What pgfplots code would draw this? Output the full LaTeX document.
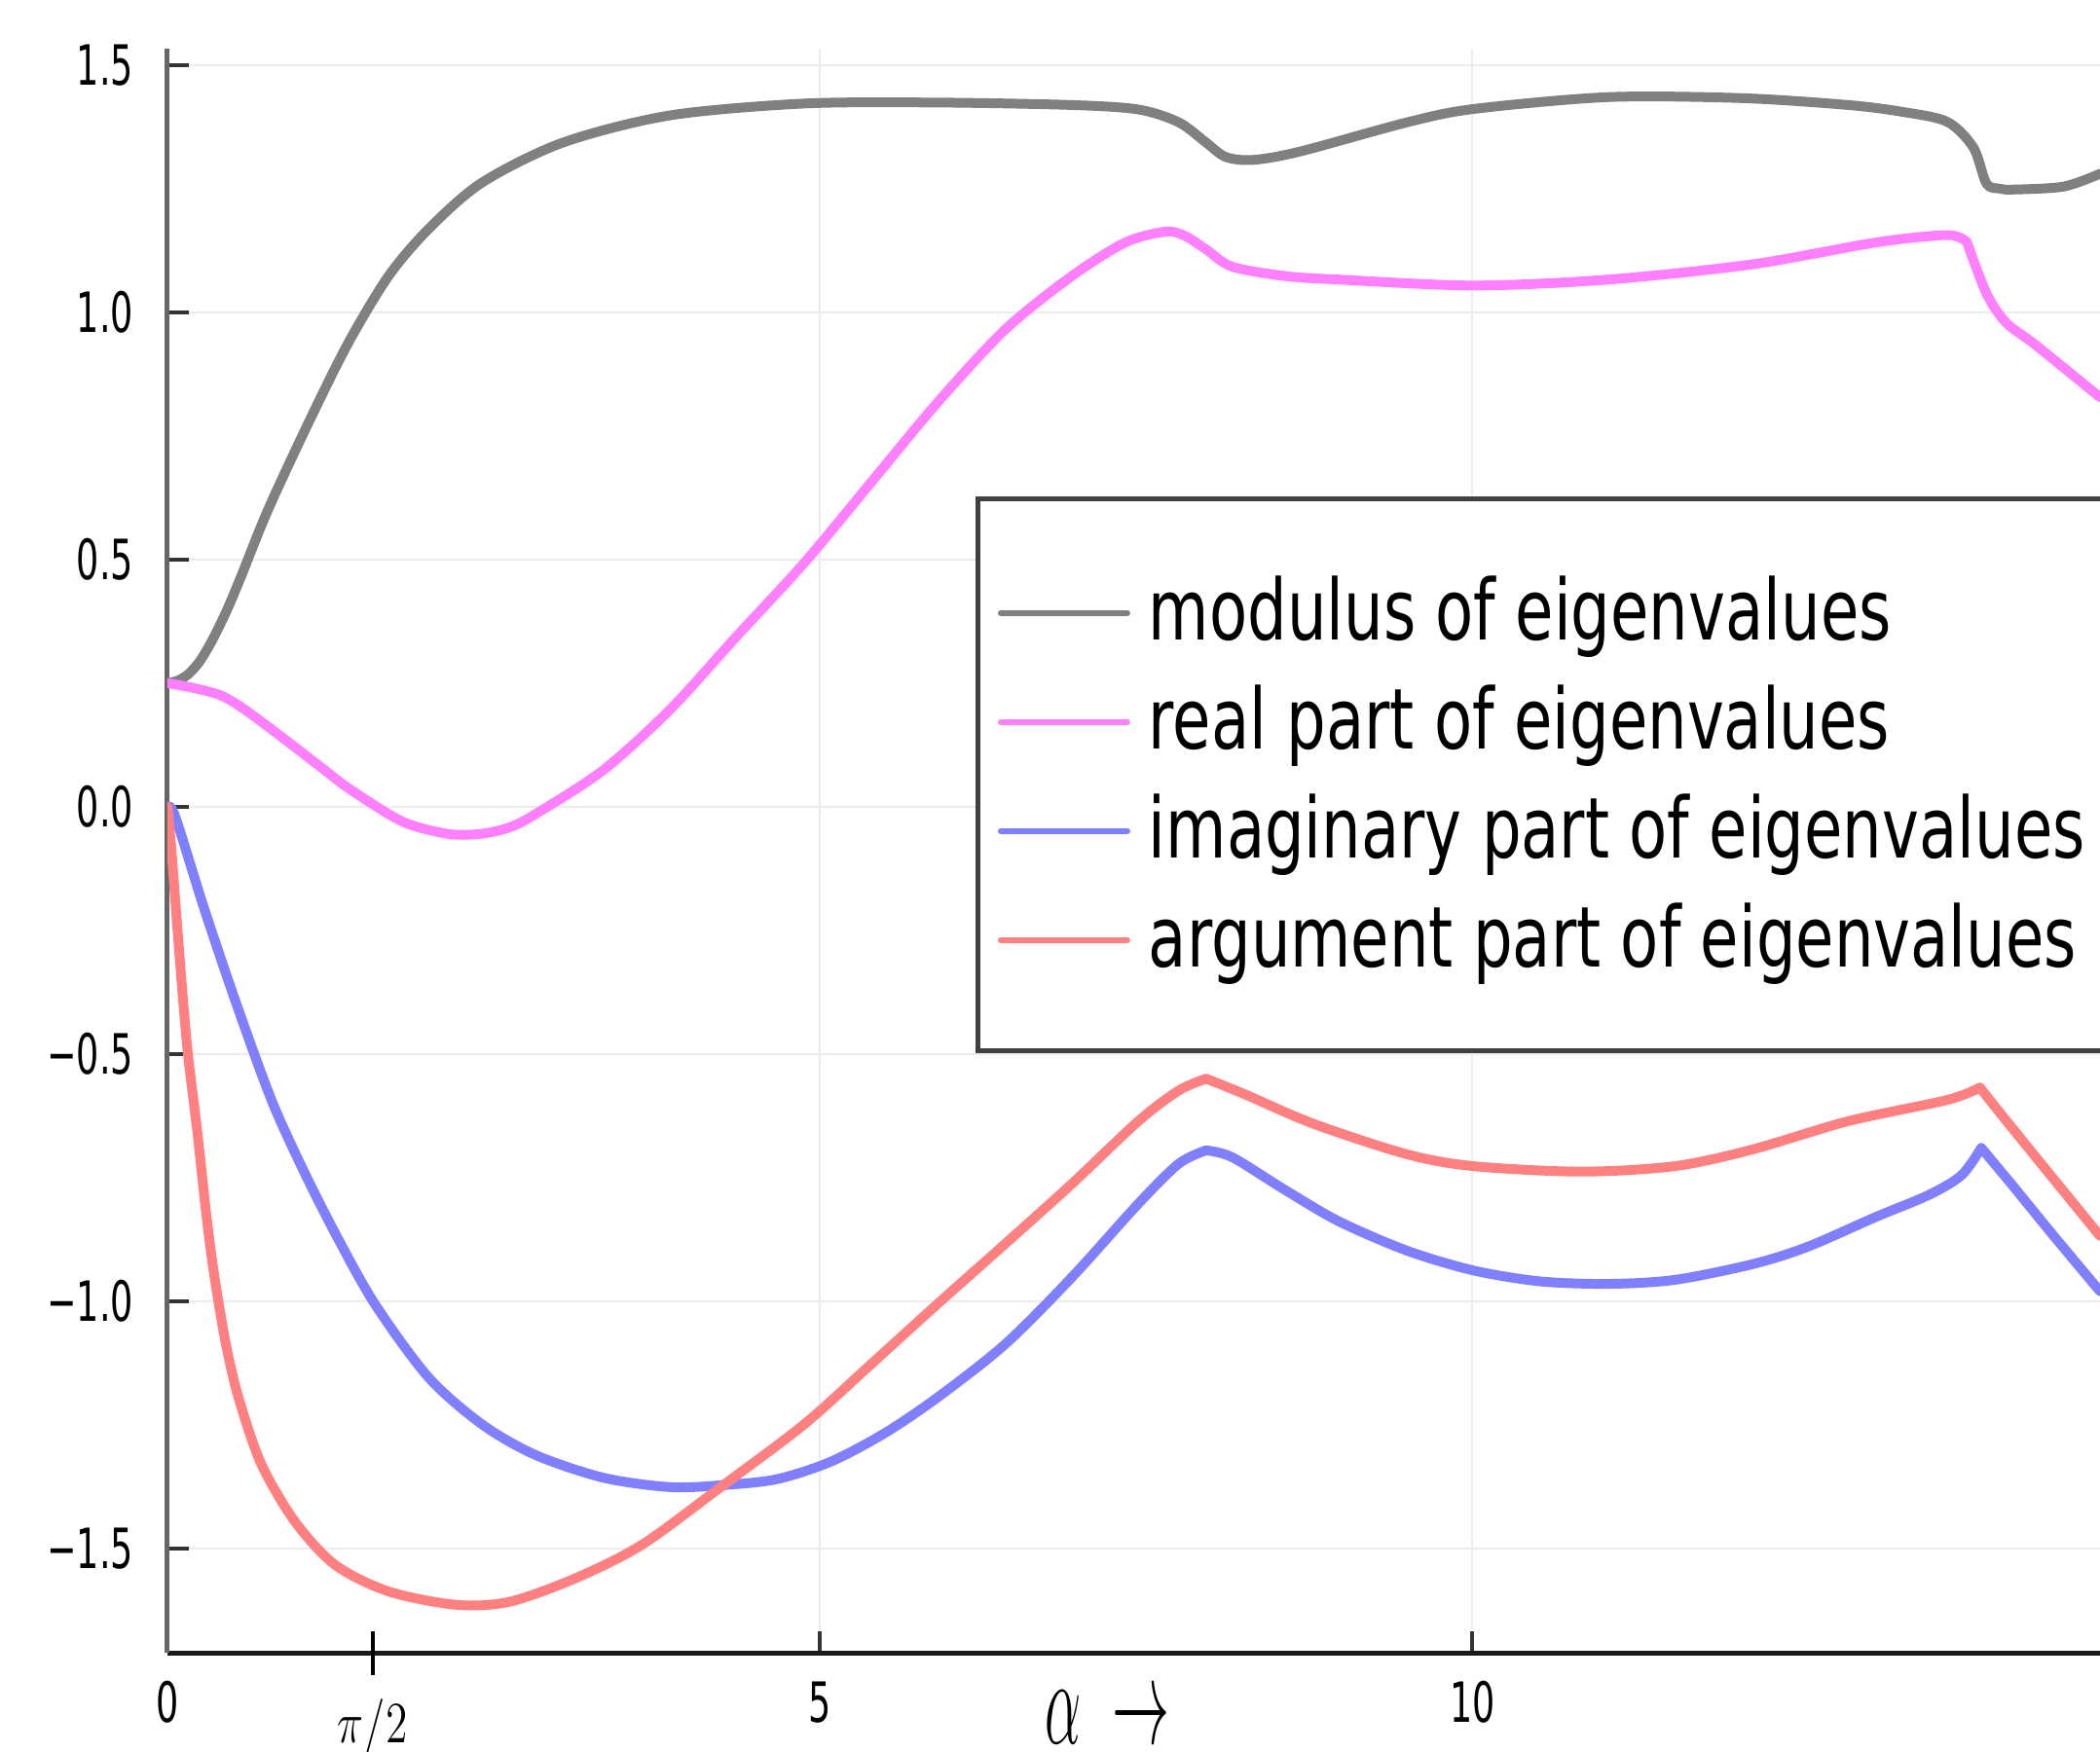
\documentclass[border=0pt]{standalone}
\usepackage[no-math]{fontspec}
\usepackage{graphicx}
\usepackage{pgfplots}
\pgfplotsset{compat=1.18}
\setmainfont{DejaVu Sans}
\newfontfamily\tickfont{DejaVu Sans}[FakeStretch=0.64]
\newfontfamily\legfont{DejaVu Sans}[FakeStretch=0.74]

\definecolor{modc}{RGB}{128,128,128}
\definecolor{rec}{RGB}{255,128,255}
\definecolor{imc}{RGB}{128,128,255}
\definecolor{argc}{RGB}{255,128,128}
\definecolor{gridc}{RGB}{236,236,236}

\pgfplotsset{curve/.style={line width=2pt, line join=round, line cap=round, smooth, tension=0.5}}

\begin{document}
\begin{tikzpicture}
\begin{axis}[
    scale only axis,
    width=397pt, height=329.6pt,
    xmin=0, xmax=14.81,
    ymin=-1.711, ymax=1.533,
    axis x line*=bottom, axis y line*=left,
    x axis line style={black!90, line width=1pt},
    y axis line style={black!60, line width=1pt},
    xtick={0,5,10}, xticklabels={0,5,10},
    ytick={-1.5,-1,...,1.5},
    yticklabels={−1.5,−1.0,−0.5,0.0,0.5,1.0,1.5},
    tick align=inside,
    major tick length=4.5pt,
    tick style={black!80, line width=0.8pt},
    xmajorgrids, ymajorgrids,
    grid style={gridc, line width=0.4pt},
    xticklabel style={font=\tickfont\fontsize{11.4}{12}\selectfont,
        anchor=base, inner sep=0pt, yshift=-14.2pt},
    yticklabel style={font=\tickfont\fontsize{11.4}{12}\selectfont,
        anchor=east, inner sep=0pt, xshift=-6.8pt},
    extra x ticks={1.5708},
    extra x tick labels={\scalebox{0.76}[1]{$\pi/2$}},
    extra x tick style={grid=none, tick align=center, major tick length=9pt,
        tick style={black, line width=0.8pt},
        xticklabel style={font=\fontsize{12.5}{12.5}\selectfont, yshift=0.3pt}},
    xlabel={\scalebox{0.82}[1.75]{\fontsize{14}{14}\selectfont$\alpha\;\rightarrow$}},
    xlabel style={at={(rel axis cs:0.4864,0)}, anchor=base, inner sep=0pt, yshift=-18.7pt},
    legend cell align=left,
    legend image code/.code={\draw[#1, line width=1.2pt, smooth=false] (0pt,-0.35pt) -- (26pt,-0.35pt);},
    legend style={at={(axis cs:6.196,0.627)}, anchor=north west,
        draw=black!75, line width=1pt, fill=white,
        inner xsep=4pt, inner ysep=14.4pt, row sep=5.1pt, column sep=3.8pt,
        font=\legfont\fontsize{17.3}{17.3}\selectfont,
        nodes={inner sep=0pt, text height=14.6pt, text depth=2.7pt}},
]

% modulus
\addplot[modc, curve] coordinates {
(0,0.25)(0.08,0.255)(0.16,0.268)(0.25,0.295)(0.35,0.34)(0.46,0.40)(0.565,0.466)
(0.77,0.60)(1.08,0.776)(1.386,0.938)(1.694,1.073)(2.0,1.168)(2.41,1.262)
(3.03,1.343)(3.85,1.398)(4.88,1.422)(5.90,1.424)(6.93,1.419)(7.44,1.41)
(7.75,1.384)(7.96,1.343)(8.11,1.314)(8.32,1.308)(8.68,1.325)(9.50,1.384)
(10.01,1.411)(11.04,1.435)(12.06,1.433)(12.88,1.419)(13.30,1.405)(13.64,1.385)
(13.84,1.333)(13.94,1.26)(14.04,1.25)(14.14,1.248)(14.53,1.254)(14.81,1.28)
};
\addlegendentry{modulus of eigenvalues}

% real part
\addplot[rec, curve] coordinates {
(0,0.25)(0.2,0.240)(0.41,0.225)(0.6,0.195)(0.9,0.136)(1.2,0.075)(1.4,0.035)
(1.8,-0.03)(2.15,-0.055)(2.4,-0.055)(2.62,-0.042)(2.82,-0.015)(3.34,0.074)
(3.85,0.196)(4.36,0.344)(4.88,0.493)(5.39,0.655)(5.90,0.817)(6.42,0.965)
(6.93,1.073)(7.34,1.141)(7.65,1.163)(7.80,1.154)(7.96,1.127)(8.16,1.092)
(8.57,1.073)(8.98,1.066)(10.01,1.054)(11.04,1.066)(12.15,1.097)(13.09,1.141)
(13.64,1.156)(13.79,1.142)
};
\addlegendentry{real part of eigenvalues}
\addplot[rec, curve, forget plot] coordinates {
(13.79,1.142)(13.94,1.038)(14.09,0.979)(14.32,0.933)(14.81,0.828)
};

% imaginary part
\addplot[imc, curve] coordinates {
(0,0)(0.06,-0.02)(0.28,-0.205)(0.53,-0.40)(0.80,-0.595)(1.05,-0.74)
(1.3,-0.87)(1.59,-1.006)(2.0,-1.154)(2.41,-1.249)(2.82,-1.311)(3.34,-1.357)
(3.85,-1.376)(4.26,-1.372)(4.67,-1.36)(5.08,-1.325)(5.49,-1.268)(5.90,-1.195)
(6.42,-1.087)(6.93,-0.952)(7.44,-0.803)(7.75,-0.722)(7.96,-0.695)
};
\addlegendentry{imaginary part of eigenvalues}
\addplot[imc, curve, forget plot] coordinates {
(7.96,-0.695)(8.16,-0.709)
(8.57,-0.776)(8.98,-0.839)(9.50,-0.898)(10.01,-0.938)(10.52,-0.96)(11.04,-0.965)
(11.55,-0.957)(12.15,-0.925)(12.57,-0.89)(13.09,-0.83)(13.5,-0.785)(13.75,-0.745)
(13.90,-0.69)
};
\addplot[imc, curve, forget plot] coordinates {
(13.90,-0.69)(14.14,-0.766)(14.43,-0.86)(14.81,-0.98)
};

% argument
\addplot[argc, curve] coordinates {
(0,0)(0.03,-0.085)(0.06,-0.19)(0.11,-0.36)(0.157,-0.50)(0.23,-0.66)(0.30,-0.83)
(0.36,-0.95)(0.45,-1.09)(0.55,-1.20)(0.72,-1.33)(0.975,-1.445)(1.283,-1.533)
(1.694,-1.587)(2.21,-1.614)(2.62,-1.608)(3.13,-1.56)(3.64,-1.492)(4.26,-1.372)
(4.88,-1.249)(5.39,-1.128)(5.90,-1.006)(6.42,-0.884)(6.93,-0.763)(7.44,-0.636)
(7.75,-0.574)(7.96,-0.55)
};
\addlegendentry{argument part of eigenvalues}
\addplot[argc, curve, forget plot] coordinates {
(7.96,-0.55)(8.26,-0.582)(8.78,-0.641)(9.50,-0.703)(10.01,-0.727)
(10.83,-0.738)(11.55,-0.727)(12.15,-0.693)(12.88,-0.636)(13.64,-0.593)(13.89,-0.568)
};
\addplot[argc, curve, forget plot] coordinates {
(13.89,-0.568)(14.07,-0.628)(14.43,-0.745)(14.81,-0.868)
};

\end{axis}
\pgfresetboundingbox
\path[use as bounding box] (-34.4pt,-20.2pt) rectangle (397pt,339.6pt);
\end{tikzpicture}
\end{document}
